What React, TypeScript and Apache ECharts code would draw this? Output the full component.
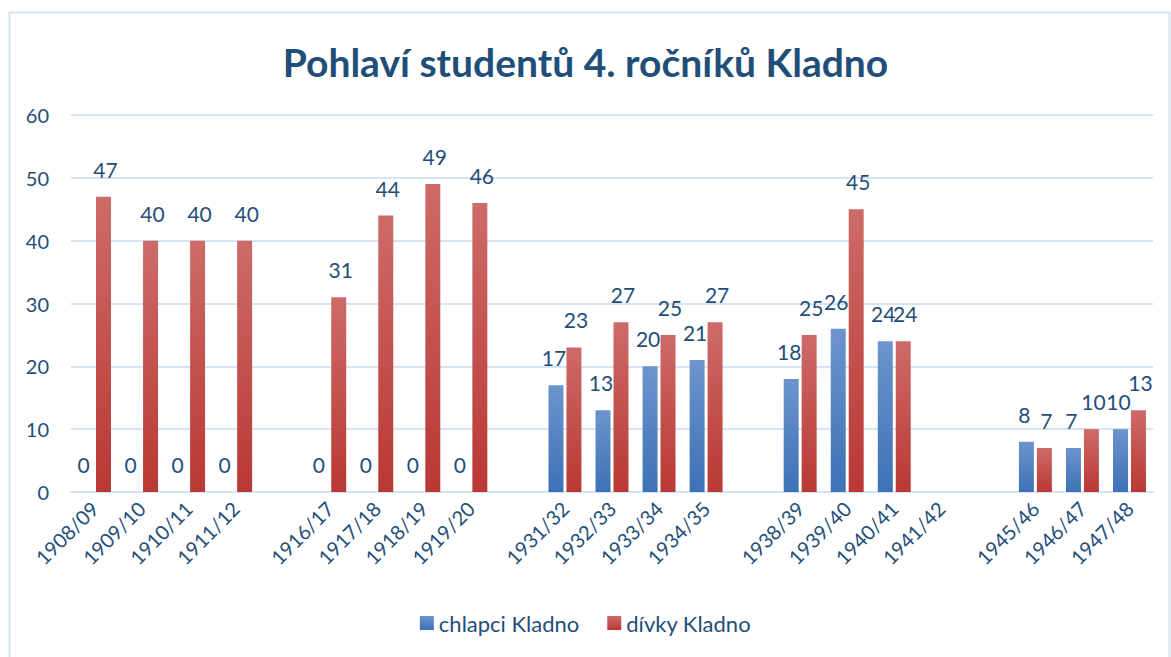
import React, { useEffect, useRef } from "react";
import * as echarts from "echarts";

const categories = [
  "1908/09", "1909/10", "1910/11", "1911/12", "",
  "1916/17", "1917/18", "1918/19", "1919/20", "",
  "1931/32", "1932/33", "1933/34", "1934/35", "",
  "1938/39", "1939/40", "1940/41", "1941/42", "",
  "1945/46", "1946/47", "1947/48",
];
const chlapci = [0, 0, 0, 0, null, 0, 0, 0, 0, null, 17, 13, 20, 21, null, 18, 26, 24, null, null, 8, 7, 10];
const divky = [47, 40, 40, 40, null, 31, 44, 49, 46, null, 23, 27, 25, 27, null, 25, 45, 24, null, null, 7, 10, 13];
const yTicks = [0, 10, 20, 30, 40, 50, 60];

const TEXT = "#1F4E79";
const FONT = "Lato, 'Noto Sans', sans-serif";

export default function App() {
  const ref = useRef<HTMLDivElement>(null);
  useEffect(() => {
    if (!ref.current) return;
    const chart = echarts.init(ref.current, null, { renderer: "svg" });
    const blue = new echarts.graphic.LinearGradient(0, 0, 0, 1, [
      { offset: 0, color: "#6D94CC" },
      { offset: 1, color: "#3D71B6" },
    ]);
    const red = new echarts.graphic.LinearGradient(0, 0, 0, 1, [
      { offset: 0, color: "#CD6B68" },
      { offset: 1, color: "#B93834" },
    ]);
    const label = (dx: number) => ({
      show: true,
      position: "top" as const,
      distance: 17,
      offset: [dx, 0],
      color: TEXT,
      fontSize: 21,
      fontFamily: FONT,
    });
    chart.setOption({
      animation: false,
      backgroundColor: "#FFFFFF",
      textStyle: { fontFamily: FONT },
      graphic: [
        {
          type: "rect",
          left: 7,
          top: 10,
          shape: { width: 1160, height: 660 },
          style: { fill: "none", stroke: "#D5E3F4", lineWidth: 2 },
          silent: true,
        },
      ],
      title: {
        text: "Pohlaví studentů 4. ročníků Kladno",
        left: "center",
        top: 37,
        textStyle: { color: TEXT, fontSize: 39, fontWeight: "bold", fontFamily: FONT },
      },
      legend: {
        bottom: 18,
        left: "center",
        itemWidth: 14,
        itemHeight: 14,
        itemGap: 28,
        icon: "rect",
        textStyle: { color: TEXT, fontSize: 22, fontFamily: FONT },
        data: ["chlapci Kladno", "dívky Kladno"],
      },
      grid: { left: 71, right: 18, top: 115, bottom: 165, containLabel: false },
      xAxis: {
        type: "category",
        data: categories,
        axisLine: { lineStyle: { color: "#D5E3F4", width: 2 } },
        axisTick: { show: false },
        axisLabel: {
          interval: 0,
          rotate: 45,
          color: TEXT,
          fontSize: 20,
          fontFamily: FONT,
          margin: 13,
        },
      },
      yAxis: {
        type: "value",
        min: yTicks[0],
        max: yTicks[yTicks.length - 1],
        interval: 10,
        axisLine: { show: false },
        axisTick: { show: false },
        splitLine: { lineStyle: { color: "#D5E3F4", width: 2 } },
        axisLabel: { color: TEXT, fontSize: 20, fontFamily: FONT, margin: 22 },
      },
      series: [
        {
          name: "chlapci Kladno",
          type: "bar",
          data: chlapci,
          barGap: "20%",
          barCategoryGap: "30%",
          itemStyle: { color: blue },
          label: label(-2),
        },
        {
          name: "dívky Kladno",
          type: "bar",
          data: divky,
          itemStyle: { color: red },
          label: label(2),
        },
      ],
    });
    return () => chart.dispose();
  }, []);
  return (
    <div
      ref={ref}
      style={{ position: "fixed", left: 0, top: 0, width: 1171, height: 657 }}
    />
  );
}
